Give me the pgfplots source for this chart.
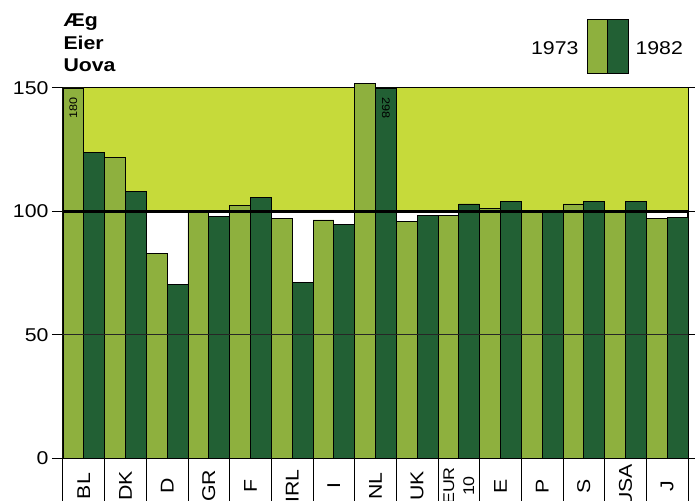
\documentclass[border=0pt]{standalone}
\usepackage{fontspec}
\setmainfont{Liberation Sans}[FakeStretch=1.15]
\usepackage{pgfplots}
\pgfplotsset{compat=1.18}
\definecolor{bg}{RGB}{198,218,58}
\definecolor{cA}{RGB}{142,176,62}
\definecolor{cB}{RGB}{34,96,52}
\begin{document}
\begin{tikzpicture}
\useasboundingbox (0pt,0pt) rectangle (695pt,500pt);
\begin{axis}[at={(63pt,42pt)}, anchor=south west, scale only axis,
  width=625pt, height=370pt,
  xmin=-0.5, xmax=14.5, ymin=0, ymax=150, clip=false,
  axis line style={line width=1.2pt},
  ytick={0,50,100,150}, tick align=outside, major tick length=11pt,
  ytick style={line width=1pt, black},
  xtick={0,...,14},
  xticklabels={BL,DK,D,GR,F,IRL,I,NL,UK,{\fontsize{15.5}{11.5}\selectfont EUR\\\fontsize{15.5}{11.5}\selectfont 10},E,P,S,USA,J},
  xtick style={draw=none},
  xticklabel style={yshift=-17pt, rotate=90, anchor=center, align=center, font=\fontsize{18.5}{20}\selectfont},
  yticklabel style={font=\fontsize{18.5}{20}\selectfont},
  /pgf/number format/assume math mode=true,
  ybar, bar width=20.83pt,
]
\fill[bg] (axis cs:-0.5,100) rectangle (axis cs:14.5,150);
\addplot[fill=cA, draw=black, line width=0.8pt, bar shift=-10.42pt] coordinates {
 (0,150) (1,122) (2,83) (3,99.5) (4,102.5) (5,97) (6,96.5) (7,152) (8,96) (9,98.5) (10,101) (11,100) (12,103) (13,99.5) (14,97)};
\addplot[fill=cB, draw=black, line width=0.8pt, bar shift=10.42pt] coordinates {
 (0,124) (1,108) (2,70.5) (3,98) (4,105.5) (5,71) (6,94.5) (7,150) (8,98.5) (9,103) (10,104) (11,100) (12,104) (13,104) (14,97.5)};
\draw[line width=2.5pt] (axis cs:-0.5,100) -- (axis cs:14.5,100);
\draw[line width=0.9pt, black!85] (axis cs:-0.5,50) -- (axis cs:14.5,50);
\pgfplotsinvokeforeach{-0.5,0.5,...,14.5}{
  \draw[line width=1pt] (axis cs:#1,0) -- (axis cs:#1,-25);
}
\node[rotate=90, font=\fontsize{11}{11}\selectfont] at (axis cs:-0.25,142) {180};
\node[rotate=-90, font=\fontsize{11}{11}\selectfont] at (axis cs:7.25,142) {298};
\end{axis}
\node[anchor=base west, font=\bfseries\fontsize{18.5}{20}\selectfont] at (60pt,473pt) {Æg};
\node[anchor=base west, font=\bfseries\fontsize{18.5}{20}\selectfont] at (60pt,450.5pt) {Eier};
\node[anchor=base west, font=\bfseries\fontsize{18.5}{20}\selectfont] at (60pt,428pt) {Uova};
\node[anchor=base east, font=\fontsize{18.5}{20}\selectfont] at (582pt,445pt) {1973};
\filldraw[fill=cA, line width=1pt] (587pt,426pt) rectangle (607pt,480pt);
\filldraw[fill=cB, line width=1pt] (607pt,426pt) rectangle (628pt,480pt);
\node[anchor=base west, font=\fontsize{18.5}{20}\selectfont] at (632pt,445pt) {1982};
\end{tikzpicture}
\end{document}
